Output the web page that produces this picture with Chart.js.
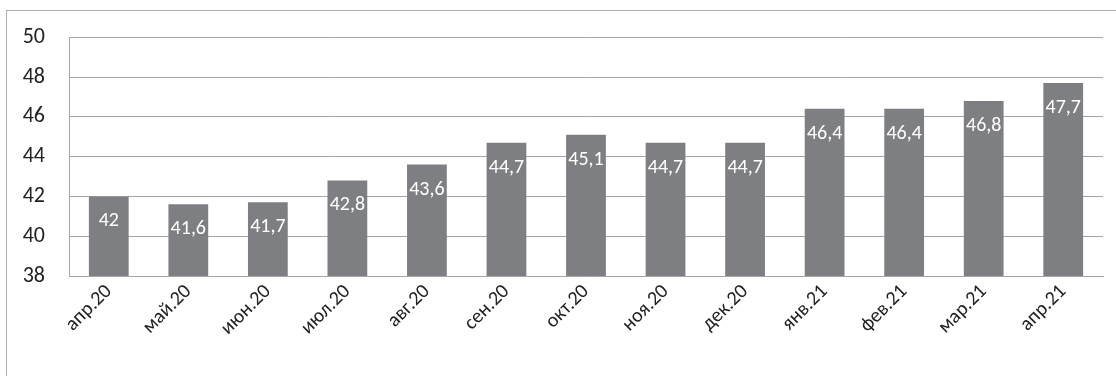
<!DOCTYPE html>
<html>
<head>
<meta charset="utf-8">
<script src="https://cdn.jsdelivr.net/npm/chart.js@4.4.0/dist/chart.umd.min.js"></script>
<style>
  html, body { margin: 0; padding: 0; background: #fff; overflow: hidden; }
  #wrap { position: relative; width: 1116px; height: 376px; }
  #frame { position: absolute; left: 6px; top: 10px; width: 1200px; height: 500px; border: 1px solid #b0b0b0; box-sizing: border-box; }
  canvas { position: absolute; left: 0; top: 0; }
</style>
</head>
<body>
<div id="wrap">
  <div id="frame"></div>
  <canvas id="c" width="1116" height="376"></canvas>
</div>
<script>
const categories = ['апр.20','май.20','июн.20','июл.20','авг.20','сен.20','окт.20','ноя.20','дек.20','янв.21','фев.21','мар.21','апр.21'];
const values = [42, 41.6, 41.7, 42.8, 43.6, 44.7, 45.1, 44.7, 44.7, 46.4, 46.4, 46.8, 47.7];
const yTicks = [38, 40, 42, 44, 46, 48, 50];

const FONT = 'Carlito, "Liberation Sans", sans-serif';

const barLabels = {
  id: 'barLabels',
  afterDatasetsDraw(chart) {
    const ctx = chart.ctx;
    const meta = chart.getDatasetMeta(0);
    ctx.save();
    ctx.fillStyle = '#ffffff';
    ctx.font = '20px ' + FONT;
    ctx.textAlign = 'center';
    ctx.textBaseline = 'middle';
    meta.data.forEach((bar, i) => {
      const txt = String(values[i]).replace('.', ',');
      ctx.fillText(txt, bar.x, bar.y + 25);
    });
    ctx.restore();
  }
};

new Chart(document.getElementById('c'), {
  type: 'bar',
  data: {
    labels: categories,
    datasets: [{
      data: values,
      backgroundColor: '#7e7f83',
      borderWidth: 0,
      categoryPercentage: 1,
      barPercentage: 0.5
    }]
  },
  options: {
    responsive: false,
    animation: false,
    devicePixelRatio: 1,
    layout: { padding: { left: 0, right: 13, top: 37, bottom: 0 } },
    plugins: { legend: { display: false }, tooltip: { enabled: false } },
    scales: {
      x: {
        grid: { display: false, drawTicks: false },
        border: { color: '#a6a6a6', width: 1 },
        ticks: {
          color: '#222',
          font: { family: FONT, size: 20 },
          minRotation: 45,
          maxRotation: 45,
          padding: 4,
          autoSkip: false
        },
        afterFit(scale) { scale.height = 100; }
      },
      y: {
        min: 38,
        max: 50,
        afterBuildTicks(scale) { scale.ticks = yTicks.map(v => ({ value: v })); },
        grid: { color: '#a6a6a6', lineWidth: 1, drawTicks: false },
        border: { color: '#a6a6a6', width: 1 },
        ticks: {
          color: '#222',
          font: { family: FONT, size: 22 },
          padding: 24
        },
        afterFit(scale) { scale.width = 69; }
      }
    }
  },
  plugins: [barLabels]
});
</script>
</body>
</html>
